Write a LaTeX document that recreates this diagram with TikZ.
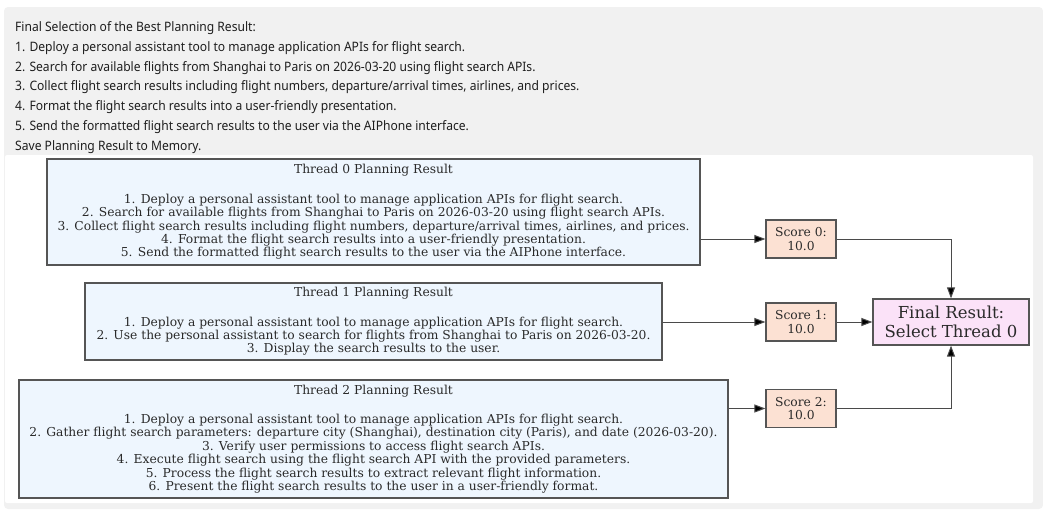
\documentclass[tikz,border=0pt]{standalone}
\usepackage{fontspec}
\setmainfont{DejaVu Serif}
\newfontfamily\uisans[FakeStretch=0.93]{Noto Sans}
\usetikzlibrary{arrows.meta}
\definecolor{panelgray}{HTML}{F1F1F1}
\definecolor{planfill}{HTML}{EEF6FE}
\definecolor{scorefill}{HTML}{FCE1D3}
\definecolor{finalfill}{HTML}{FBE2F8}
\definecolor{edgegray}{HTML}{555555}
\definecolor{linegray}{HTML}{4A4A4A}
\definecolor{uitext}{HTML}{1E1E1E}
\definecolor{boxtext}{HTML}{2A2A2A}
\tikzset{
  uiline/.style={anchor=base west, inner sep=0pt, font=\uisans\fontsize{13}{15}\selectfont, text=uitext},
  planbox/.style={draw=edgegray, line width=1.2pt, fill=planfill, align=center, inner sep=0pt,
    font=\fontsize{12.3}{13.4}\selectfont, text=boxtext},
  scorebox/.style={draw=edgegray, line width=1.2pt, fill=scorefill, align=center, inner sep=0pt,
    minimum width=70pt, minimum height=38pt, font=\fontsize{12.3}{13.5}\selectfont, text=boxtext},
  finalbox/.style={draw=edgegray, line width=1.2pt, fill=finalfill, align=center, inner sep=0pt,
    minimum width=156pt, minimum height=46pt, font=\fontsize{16.5}{19}\selectfont, text=boxtext},
  flow/.style={draw=linegray, line width=1pt, -{Triangle[length=11pt,width=8pt,fill=black]}}
}
\begin{document}
\begin{tikzpicture}[x=1pt,y=-1pt]
\useasboundingbox (0,0) rectangle (1043,509);
\fill[white] (0,0) rectangle (1043,509);
% panel and drawing area
\fill[panelgray, rounded corners=4pt] (4,7) rectangle (1043,509);
\fill[white, rounded corners=2pt] (5,155) rectangle (1033,503);

% header text
\node[uiline] (h0) at (15,31.5) {Final Selection of the Best Planning Result:};
\node[uiline] (h1) at (15,51.3) {1. Deploy a personal assistant tool to manage application APIs for flight search.};
\node[uiline] (h2) at (15,71.1) {2. Search for available flights from Shanghai to Paris on 2026-03-20 using flight search APIs.};
\node[uiline] (h3) at (15,90.9) {3. Collect flight search results including flight numbers, departure/arrival times, airlines, and prices.};
\node[uiline] (h4) at (15,110.7) {4. Format the flight search results into a user-friendly presentation.};
\node[uiline] (h5) at (15,130.5) {5. Send the formatted flight search results to the user via the AIPhone interface.};
\node[uiline] (h6) at (15,150.3) {Save Planning Result to Memory.};

% planning results
\node[planbox, minimum width=653pt, minimum height=106pt] (t0) at (373.5,212) {Thread 0 Planning Result\\[16pt]
1. Deploy a personal assistant tool to manage application APIs for flight search.\\
2. Search for available flights from Shanghai to Paris on 2026-03-20 using flight search APIs.\\
3. Collect flight search results including flight numbers, departure/arrival times, airlines, and prices.\\
4. Format the flight search results into a user-friendly presentation.\\
5. Send the formatted flight search results to the user via the AIPhone interface.};

\node[planbox, minimum width=577pt, minimum height=77pt] (t1) at (373.5,321.5) {Thread 1 Planning Result\\[16pt]
1. Deploy a personal assistant tool to manage application APIs for flight search.\\
2. Use the personal assistant to search for flights from Shanghai to Paris on 2026-03-20.\\
3. Display the search results to the user.};

\node[planbox, minimum width=709pt, minimum height=118pt] (t2) at (373.5,439) {Thread 2 Planning Result\\[16pt]
1. Deploy a personal assistant tool to manage application APIs for flight search.\\
2. Gather flight search parameters: departure city (Shanghai), destination city (Paris), and date (2026-03-20).\\
3. Verify user permissions to access flight search APIs.\\
4. Execute flight search using the flight search API with the provided parameters.\\
5. Process the flight search results to extract relevant flight information.\\
6. Present the flight search results to the user in a user-friendly format.};

% scores
\node[scorebox] (s0) at (801,239) {Score 0:\\10.0};
\node[scorebox] (s1) at (801,322) {Score 1:\\10.0};
\node[scorebox] (s2) at (801,408.5) {Score 2:\\10.0};

% final choice
\node[finalbox] (fin) at (951,322) {Final Result:\\Select Thread 0};

% connectors
\draw[flow] (t0.east |- s0) -- (s0);
\draw[flow] (t1.east |- s1) -- (s1);
\draw[flow] (t2.east |- s2) -- (s2);
\draw[flow] (s0) -| (fin);
\draw[flow] (s1) -- (fin);
\draw[flow] (s2) -| (fin);
\end{tikzpicture}
\end{document}
